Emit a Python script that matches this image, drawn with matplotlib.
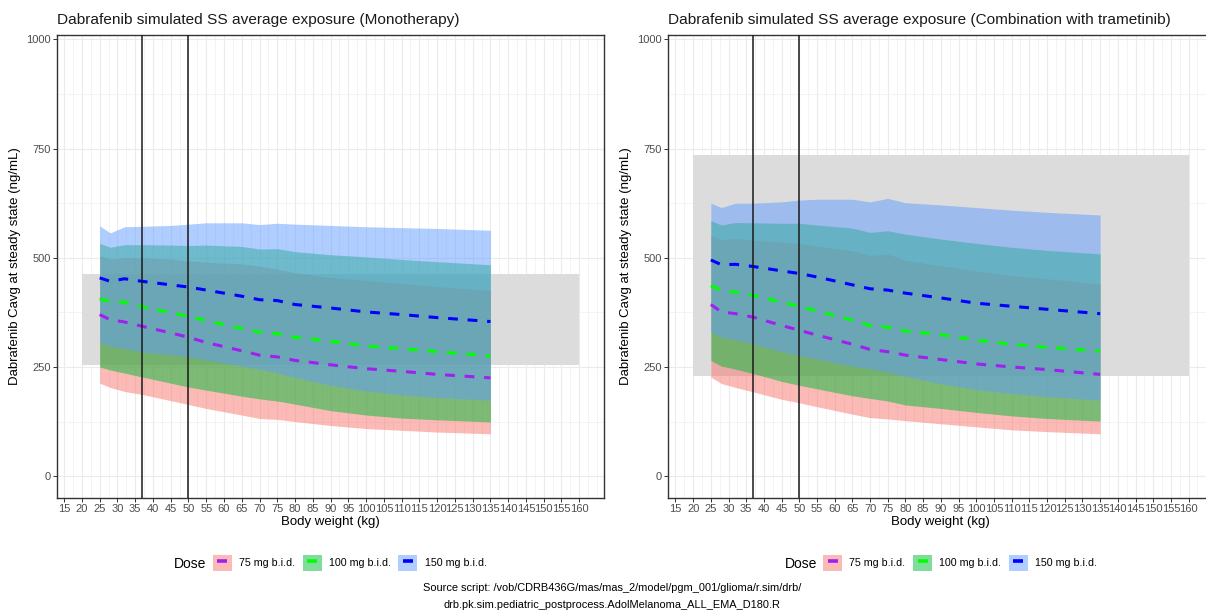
import numpy as np
import matplotlib.pyplot as plt
from matplotlib.patches import Patch, Rectangle
from matplotlib.lines import Line2D
from matplotlib.ticker import MultipleLocator

plt.rcParams['font.family'] = ['Liberation Sans', 'DejaVu Sans']

# body weight grid of the simulation summaries (kg)
weight = [25, 28, 32, 37, 45, 50, 55, 65, 70, 75, 80, 90, 100, 110, 120, 135]

# --- monotherapy: 5th / 95th percentile bands and medians (ng/mL)
mono_75_lo = [213, 203, 194, 187, 173, 164, 155, 140, 132, 130, 125, 116, 109, 105, 101, 97]
mono_75_hi = [505, 497, 501, 500, 497, 493, 490, 486, 481, 474, 466, 455, 448, 441, 434, 425]
mono_100_lo = [250, 243, 236, 227, 213, 204, 197, 183, 177, 172, 165, 150, 140, 133, 129, 124]
mono_100_hi = [533, 524, 530, 530, 529, 528, 529, 526, 520, 521, 514, 507, 502, 496, 491, 484]
mono_150_lo = [307, 297, 292, 284, 278, 273, 266, 252, 245, 236, 226, 208, 195, 186, 180, 174]
mono_150_hi = [573, 557, 571, 572, 574, 577, 580, 580, 576, 579, 577, 574, 571, 569, 567, 563]
mono_75_med = [370, 358, 353, 343, 328, 318, 306, 287, 277, 273, 265, 255, 246, 240, 233, 225]
mono_100_med = [406, 400, 398, 388, 374, 366, 356, 338, 330, 326, 318, 309, 298, 292, 285, 275]
mono_150_med = [454, 446, 452, 446, 438, 433, 426, 412, 404, 402, 393, 385, 376, 370, 363, 354]

# --- combination with trametinib
comb_75_lo = [227, 212, 203, 193, 176, 168, 159, 142, 134, 131, 127, 120, 113, 106, 102, 97]
comb_75_hi = [551, 541, 545, 540, 536, 533, 527, 516, 505, 509, 494, 482, 470, 459, 452, 440]
comb_100_lo = [265, 252, 245, 235, 217, 208, 200, 184, 178, 172, 163, 155, 146, 138, 132, 126]
comb_100_hi = [585, 575, 581, 580, 579, 579, 575, 568, 558, 562, 554, 543, 533, 524, 517, 509]
comb_150_lo = [330, 318, 312, 303, 285, 276, 268, 252, 246, 238, 228, 212, 198, 189, 182, 174]
comb_150_hi = [625, 615, 625, 625, 628, 632, 634, 634, 628, 636, 626, 621, 615, 609, 604, 598]
comb_75_med = [393, 376, 372, 364, 345, 334, 323, 302, 290, 285, 277, 267, 257, 250, 244, 233]
comb_100_med = [436, 426, 421, 414, 398, 389, 378, 357, 345, 341, 332, 324, 311, 302, 295, 286]
comb_150_med = [495, 484, 485, 480, 470, 464, 456, 438, 429, 426, 419, 408, 396, 389, 382, 372]

# adult reference exposure range (weight span, Cavg low/high)
ref_weight = (20, 160)
mono_ref = (255, 463)
comb_ref = (229, 736)

# weight cut-offs marked with vertical lines
cutoffs = [37, 50]

doses = ['75 mg b.i.d.', '100 mg b.i.d.', '150 mg b.i.d.']
fill_cols = ['#F8766D', '#00BA38', '#619CFF']
med_cols = ['#A020F0', '#00FF00', '#0000FF']

panels = [
    ('Dabrafenib simulated SS average exposure (Monotherapy)',
     [mono_75_lo, mono_100_lo, mono_150_lo], [mono_75_hi, mono_100_hi, mono_150_hi],
     [mono_75_med, mono_100_med, mono_150_med], mono_ref),
    ('Dabrafenib simulated SS average exposure (Combination with trametinib)',
     [comb_75_lo, comb_100_lo, comb_150_lo], [comb_75_hi, comb_100_hi, comb_150_hi],
     [comb_75_med, comb_100_med, comb_150_med], comb_ref),
]

W, H = 1206, 613
fig = plt.figure(figsize=(W / 100, H / 100), dpi=100)
positions = [[0.0473, 0.1876, 0.4536, 0.7553], [0.5542, 0.1876, 0.4519, 0.7553]]
# left edge of the legend block (px) for each panel
legend_x = [203, 813.5]

for pos, lx, (title, los, his, meds, ref) in zip(positions, legend_x, panels):
    ax = fig.add_axes(pos)
    ax.set_xlim(13, 167)
    ax.set_ylim(-50, 1010)
    ax.set_xticks(np.arange(15, 161, 5))
    ax.xaxis.set_minor_locator(MultipleLocator(2.5))
    ax.set_yticks([0, 250, 500, 750, 1000])
    ax.yaxis.set_minor_locator(MultipleLocator(125))
    ax.grid(which='major', color='#EBEBEB', lw=0.8)
    ax.grid(which='minor', color='#F0F0F0', lw=0.5)
    ax.set_axisbelow(True)
    ax.tick_params(which='minor', length=0)
    ax.tick_params(which='major', length=3, width=0.7, color='#333333',
                   labelcolor='#4D4D4D', pad=1.5, labelsize=8)
    for sp in ax.spines.values():
        sp.set_color('#333333')
        sp.set_linewidth(1.0)

    ax.add_patch(Rectangle((ref_weight[0], ref[0]), ref_weight[1] - ref_weight[0],
                           ref[1] - ref[0], facecolor='#DCDCDC', edgecolor='none', zorder=1))

    for lo, hi, c in zip(los, his, fill_cols):
        ax.fill_between(weight, lo, hi, color=c, alpha=0.5, lw=0, zorder=2)
    for med, c in zip(meds, med_cols):
        ax.plot(weight, med, color=c, lw=2.2, dashes=(3.2, 3.2), zorder=3)
    for w in cutoffs:
        ax.axvline(w, color='#1A1A1A', lw=1.1, zorder=4)

    ax.set_title(title, loc='left', fontsize=11.1, color='#1A1A1A', pad=8)
    ax.set_xlabel('Body weight (kg)', fontsize=9.5, labelpad=1.5)
    ax.set_ylabel('Dabrafenib Cavg at steady state (ng/mL)', fontsize=9.5, labelpad=4)

    # legend below each panel
    handles = [(Patch(facecolor=fc, alpha=0.5, edgecolor='none'),
                Line2D([], [], color=mc, marker='_', markersize=6.5, markeredgewidth=2.6,
                       linestyle='None'))
               for fc, mc in zip(fill_cols, med_cols)]
    ly = 1 - 563 / H
    fig.legend(handles, doses, loc='center left', bbox_to_anchor=(lx / W, ly), ncol=3,
               frameon=False, fontsize=7.7, handlelength=1.78, handleheight=1.9,
               handletextpad=0.68, columnspacing=0.7, borderpad=0.4)
    fig.text((lx - 29) / W, ly, 'Dose', fontsize=10, ha='left', va='center_baseline')

fig.text(0.5075, 1 - 588 / H, 'Source script: /vob/CDRB436G/mas/mas_2/model/pgm_001/glioma/r.sim/drb/',
         ha='center', va='center', fontsize=7.9)
fig.text(0.5075, 1 - 605 / H, 'drb.pk.sim.pediatric_postprocess.AdolMelanoma_ALL_EMA_D180.R',
         ha='center', va='center', fontsize=7.9)

fig.savefig('out.png', dpi=100)
